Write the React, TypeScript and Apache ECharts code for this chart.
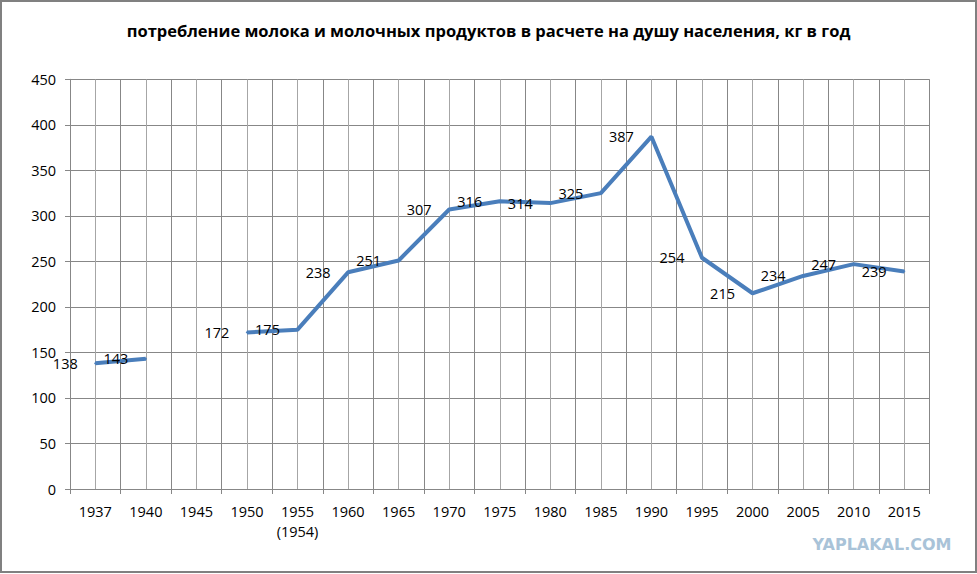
import React, { useEffect, useRef } from "react";
import * as echarts from "echarts";

const titleText = "потребление молока и молочных продуктов в расчете на душу населения, кг в год";
const categories = ["1937", "1940", "1945", "1950", "1955\n(1954)", "1960", "1965", "1970", "1975", "1980", "1985", "1990", "1995", "2000", "2005", "2010", "2015"];
const values: (number | null)[] = [138, 143, null, 172, 175, 238, 251, 307, 316, 314, 325, 387, 254, 215, 234, 247, 239];
const yTicks = { min: 0, max: 450, interval: 50 };
const watermark = "YAPLAKAL.COM";

export default function App() {
  const ref = useRef<HTMLDivElement>(null);
  useEffect(() => {
    document.body.style.margin = "0";
    const chart = echarts.init(ref.current!, undefined, { renderer: "svg" });
    const font = "'Open Sans', 'Noto Sans', sans-serif";
    const major = "#878787";
    const minor = "#a6a6a6";
    const fs = 14.5;
    chart.setOption({
      animation: false,
      backgroundColor: "#ffffff",
      title: {
        text: titleText,
        left: "center",
        top: 17,
        textStyle: { fontFamily: font, fontSize: 16.5, fontWeight: "bold", color: "#000" },
      },
      grid: { left: 70, right: 47.5, top: 79.3, bottom: 85, containLabel: false },
      xAxis: [
        {
          type: "category",
          data: categories,
          boundaryGap: true,
          axisLine: { show: true, lineStyle: { color: major, width: 1 } },
          axisTick: { show: true, alignWithLabel: false, interval: 0, length: 5, lineStyle: { color: major } },
          axisLabel: { interval: 0, margin: 12, color: "#000", fontFamily: font, fontSize: fs, lineHeight: 20 },
          splitLine: { show: false },
        },
        {
          type: "value",
          min: 0,
          max: categories.length,
          interval: 1,
          position: "bottom",
          axisLine: { show: false },
          axisTick: { show: false },
          axisLabel: { show: false },
          splitLine: { show: true, lineStyle: { color: major, width: 1 } },
          minorTick: { show: false, splitNumber: 2 },
          minorSplitLine: { show: true, lineStyle: { color: minor, width: 1 } },
        },
      ],
      yAxis: {
        type: "value",
        min: yTicks.min,
        max: yTicks.max,
        interval: yTicks.interval,
        axisLine: { show: true, lineStyle: { color: major } },
        axisTick: { show: true, length: 5, lineStyle: { color: major } },
        axisLabel: { margin: 14, color: "#000", fontFamily: font, fontSize: fs },
        splitLine: { show: true, lineStyle: { color: major, width: 1 } },
      },
      series: [
        {
          type: "line",
          xAxisIndex: 0,
          data: values,
          connectNulls: false,
          symbol: "circle",
          symbolSize: 2,
          showSymbol: true,
          itemStyle: { color: "#4a7ebb" },
          lineStyle: { color: "#4a7ebb", width: 4 },
          label: {
            show: true,
            position: "inside",
            offset: [-30, 0],
            color: "#000",
            fontFamily: font,
            fontSize: fs,
          },
          z: 5,
        },
      ],
      graphic: [
        {
          type: "rect",
          shape: { x: 1, y: 1, width: 975, height: 571 },
          style: { fill: "none", stroke: "#808080", lineWidth: 2 },
          silent: true,
        },
        {
          type: "text",
          x: 882,
          y: 544,
          style: {
            text: watermark,
            fill: "#a9c3d8",
            font: "bold 16px 'DejaVu Sans', sans-serif",
            align: "center",
            verticalAlign: "middle",
          },
          silent: true,
        },
      ],
    });
    return () => chart.dispose();
  }, []);
  return <div ref={ref} style={{ width: 977, height: 574 }} />;
}
